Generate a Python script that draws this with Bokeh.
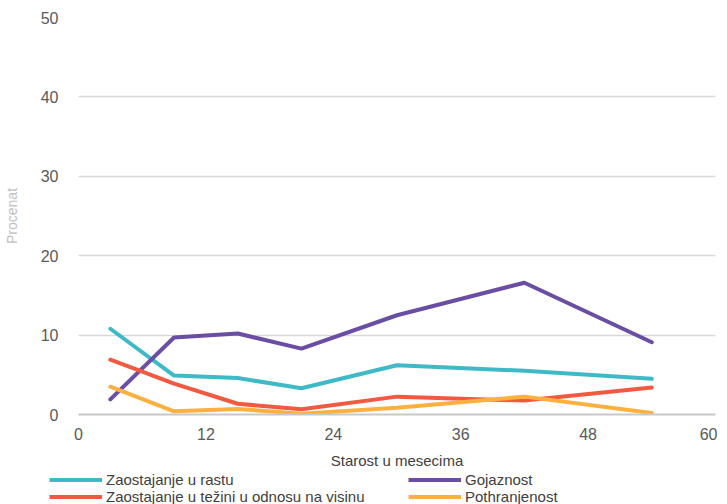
from bokeh.plotting import figure
from bokeh.models import Legend, LegendItem, Range1d, FixedTicker
from bokeh.layouts import column
from bokeh.embed import file_html
from bokeh.resources import INLINE

months = [3, 9, 15, 21, 30, 42, 54]
stunting = [10.8, 4.9, 4.6, 3.3, 6.2, 5.5, 4.5]
obesity = [1.9, 9.7, 10.2, 8.3, 12.5, 16.6, 9.1]
wasting = [6.9, 3.9, 1.35, 0.65, 2.25, 1.75, 3.4]
underweight = [3.5, 0.4, 0.7, 0.1, 0.85, 2.25, 0.2]

names = ["Zaostajanje u rastu", "Gojaznost",
         "Zaostajanje u težini u odnosu na visinu", "Pothranjenost"]
colors = ["#3dbac5", "#6a4ea3", "#f15a40", "#fbb040"]
series = [stunting, obesity, wasting, underweight]

x_ticks = [0, 12, 24, 36, 48, 60]
y_ticks = [0, 10, 20, 30, 40, 50]

FONT = "Liberation Sans"

p = figure(frame_width=637, frame_height=397, output_backend="svg", toolbar_location=None,
           x_range=Range1d(0, 60), y_range=Range1d(0, 50),
           min_border_left=72, min_border_right=2, min_border_top=17,
           min_border_bottom=0)
p.outline_line_color = None

for ys, c in zip(series, colors):
    p.line(months, ys, line_color=c, line_width=4, line_cap="round", line_join="round")

p.xaxis.ticker = FixedTicker(ticks=x_ticks)
p.yaxis.ticker = FixedTicker(ticks=y_ticks)
p.xgrid.grid_line_color = None
p.ygrid.grid_line_color = "#d9d9d9"
p.ygrid.grid_line_width = 1.5

for ax in (p.xaxis, p.yaxis):
    ax.major_tick_line_color = None
    ax.minor_tick_line_color = None
    ax.major_label_text_font = FONT
    ax.major_label_text_font_size = "16px"
    ax.major_label_text_color = "#595959"
    ax.axis_label_text_font = FONT
    ax.axis_label_text_font_style = "normal"

p.yaxis.axis_line_color = None
p.xaxis.axis_line_color = "#c8c8c8"
p.xaxis.axis_line_width = 2
p.yaxis.major_label_standoff = 14
p.xaxis.major_label_standoff = 7

p.xaxis.axis_label = "Starost u mesecima"
p.xaxis.axis_label_text_font_size = "15px"
p.xaxis.axis_label_text_color = "#404040"
p.xaxis.axis_label_standoff = 9

p.yaxis.axis_label = "Procenat"
p.yaxis.axis_label_text_font_size = "14px"
p.yaxis.axis_label_text_color = "#bfbfbf"
p.yaxis.axis_label_standoff = 18

# legend strip underneath the chart (series drawn out of view, only keys show)
lg = figure(frame_width=711, frame_height=34, output_backend="svg", toolbar_location=None,
            x_range=Range1d(0, 60), y_range=Range1d(100, 101),
            min_border_left=0, min_border_right=0, min_border_top=0, min_border_bottom=0)
lg.outline_line_color = None
lg.axis.visible = False
lg.grid.visible = False
keys = [lg.line(months, ys, line_color=c, line_width=4) for ys, c in zip(series, colors)]

order = [0, 2, 1, 3]
items = [LegendItem(label=names[i], renderers=[keys[i]]) for i in order]
legend = Legend(items=items, ncols=2, location=(49, 0),
                label_text_font=FONT, label_text_font_size="15px",
                label_text_color="#404040", glyph_width=53, glyph_height=17,
                label_width=302, label_height=17, label_standoff=4,
                spacing=0, padding=0, margin=0, border_line_color=None,
                background_fill_alpha=0)
lg.add_layout(legend, "center")

layout = column(p, lg, spacing=0)
open("out.html", "w").write(file_html(layout, INLINE))
